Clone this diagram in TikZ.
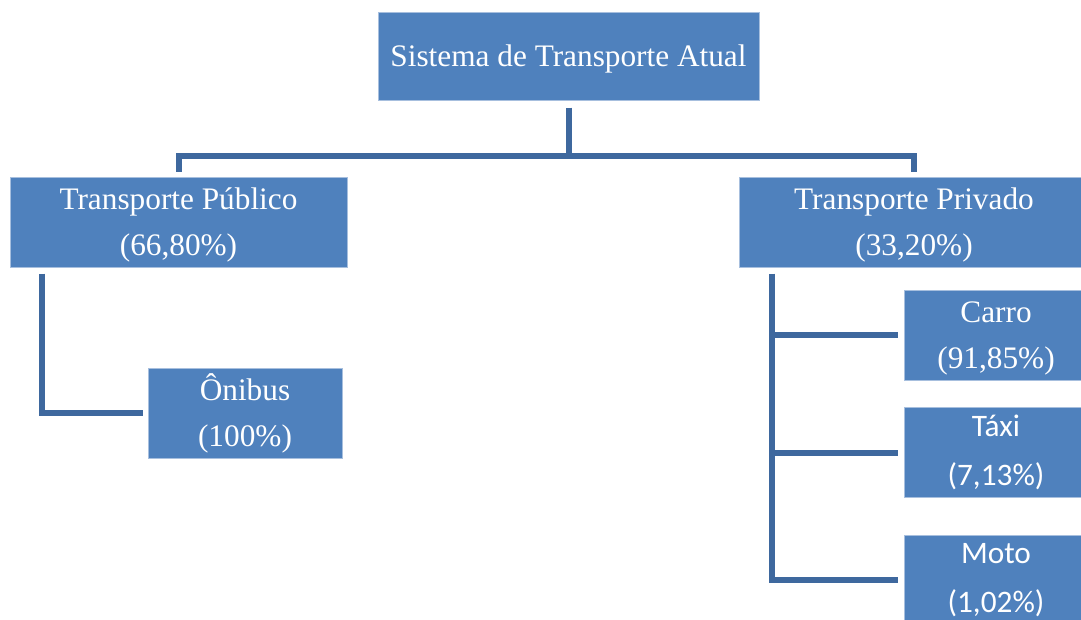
\documentclass[tikz,border=0pt]{standalone}
\usepackage{fontspec}
\setmainfont{Liberation Serif}
\newfontfamily\calibrifont{Carlito}
\definecolor{boxblue}{RGB}{79,129,189}
\definecolor{boxedge}{RGB}{167,191,222}
\definecolor{linkblue}{RGB}{62,104,158}
\newcommand{\topstrut}{\rule{0pt}{27pt}}
\tikzset{
	orgbox/.style={rectangle, fill=boxblue, draw=boxedge, line width=1pt, text=white, align=center, inner sep=0pt, minimum height=90pt, font=\fontsize{31.3}{46}\selectfont},
	orgsans/.style={orgbox, font=\calibrifont\fontsize{31.3}{49.5}\selectfont},
	link/.style={draw=linkblue, line width=6pt}
}
\begin{document}
\begin{tikzpicture}[x=1pt,y=-1pt]
	
	\useasboundingbox (0,0) rectangle (1081,619);
	\clip (0,0) rectangle (1081,619);
	
	% Boxes
	\node[orgbox, minimum width=381pt, minimum height=88pt] (sys) at (568.5,56) {\topstrut Sistema de Transporte Atual};
	\node[orgbox, minimum width=337pt] (pub) at (178.5,222) {\topstrut Transporte Público\\(66,80\%)};
	\node[orgbox, minimum width=350pt] (priv) at (914,222) {\topstrut Transporte Privado\\(33,20\%)};
	\node[orgbox, minimum width=194pt] (oni) at (245,413) {\topstrut Ônibus\\(100\%)};
	\node[orgbox, minimum width=184pt] (car) at (996,335) {\topstrut Carro\\(91,85\%)};
	\node[orgsans, minimum width=184pt] (tax) at (996,452.5) {Táxi\\(7,13\%)};
	\node[orgsans, minimum width=184pt] (mot) at (996,580) {Moto\\(1,02\%)};
	
	% Top level
	\coordinate (split) at (568.5,155.5);
	\draw[link] ([yshift=-7pt]sys.south) -- (split);
	\draw[link] ([yshift=5pt]pub.north) |- (split) -| ([yshift=5pt]priv.north);
	
	% Public
	\draw[link] ([xshift=32pt,yshift=-6pt]pub.south west) |- ([xshift=-5pt]oni.west);
	
	% Private
	\coordinate (trunk) at ([xshift=33pt,yshift=-6pt]priv.south west);
	\draw[link] (trunk) |- ([xshift=-6pt]mot.west);
	\draw[link] (trunk |- car.west) -- ([xshift=-6pt]car.west);
	\draw[link] (trunk |- tax.west) -- ([xshift=-6pt]tax.west);
	
\end{tikzpicture}
\end{document}
